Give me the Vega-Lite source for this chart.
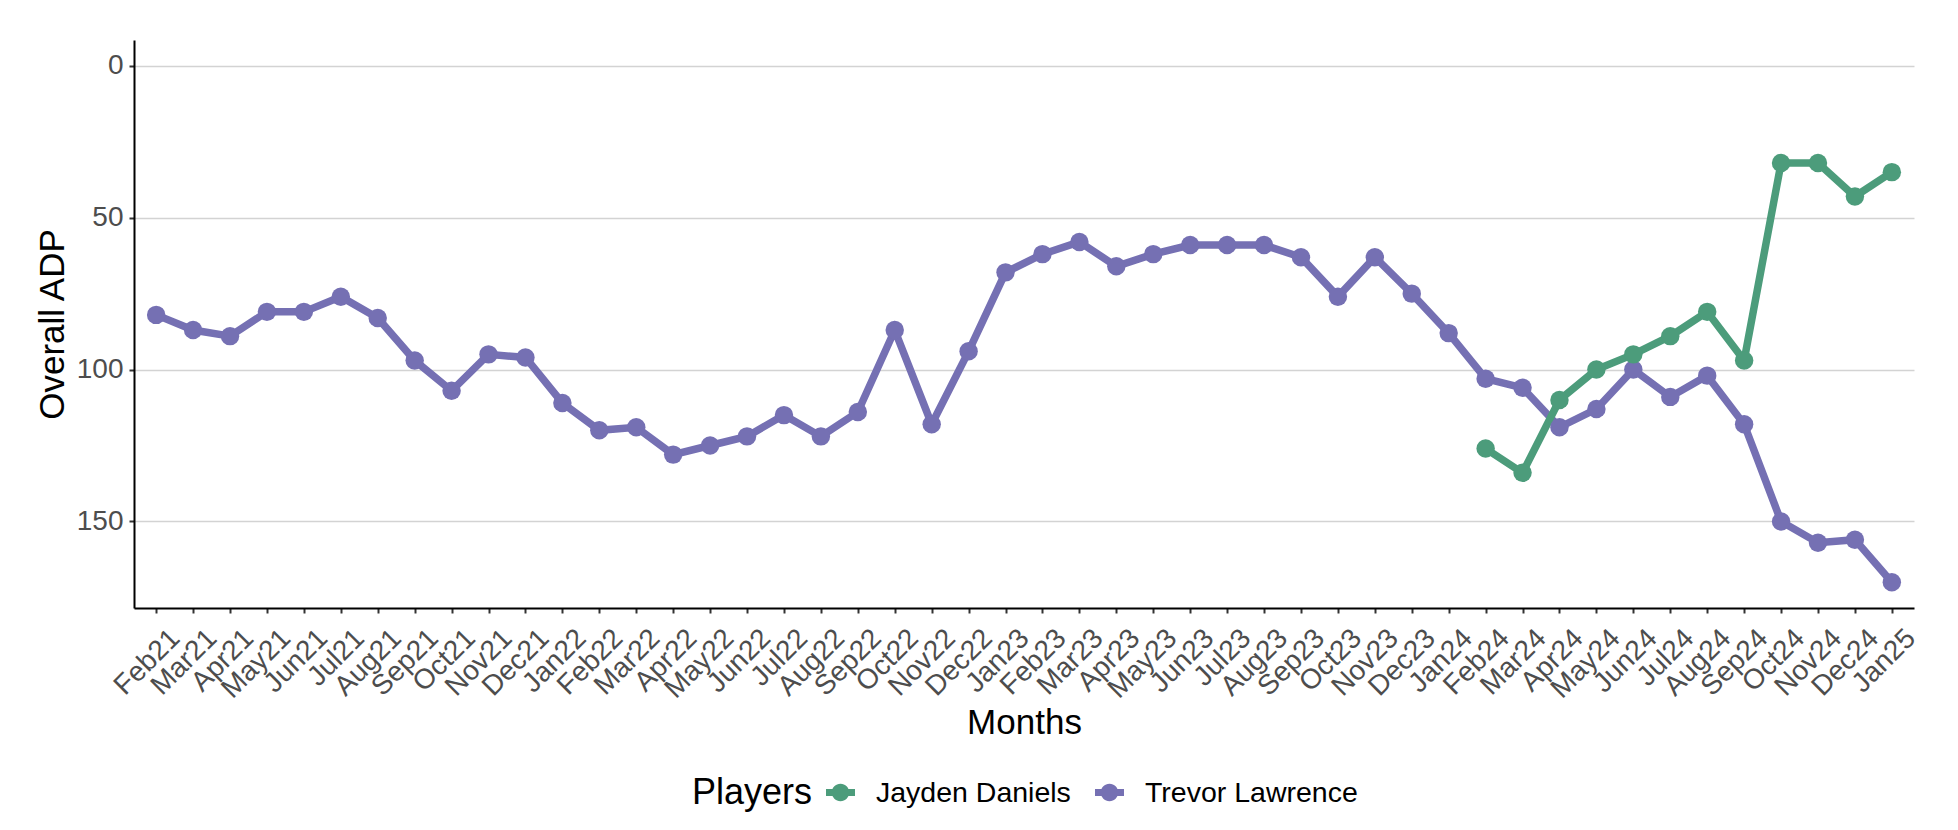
{
  "$schema": "https://vega.github.io/schema/vega-lite/v6.json",
  "autosize": "none",
  "width": 1780,
  "height": 568,
  "padding": {"left": 134, "top": 40, "right": 44, "bottom": 222},
  "background": "white",
  "config": {
    "font": "Liberation Sans",
    "view": {"stroke": null},
    "axis": {
      "labelFont": "Liberation Sans",
      "titleFont": "Liberation Sans",
      "labelFontSize": 28,
      "titleFontSize": 35,
      "labelColor": "#4D4D4D",
      "titleColor": "black",
      "titleFontWeight": "normal",
      "domainColor": "black",
      "domainWidth": 2,
      "tickColor": "#333333",
      "tickWidth": 2,
      "tickSize": 5,
      "gridColor": "#D3D3D3",
      "gridWidth": 1.5
    },
    "legend": {
      "labelFont": "Liberation Sans",
      "titleFont": "Liberation Sans"
    }
  },
  "data": {
    "values": [
      {"month": "Feb21", "player": "Trevor Lawrence", "adp": 82},
      {"month": "Mar21", "player": "Trevor Lawrence", "adp": 87},
      {"month": "Apr21", "player": "Trevor Lawrence", "adp": 89},
      {"month": "May21", "player": "Trevor Lawrence", "adp": 81},
      {"month": "Jun21", "player": "Trevor Lawrence", "adp": 81},
      {"month": "Jul21", "player": "Trevor Lawrence", "adp": 76},
      {"month": "Aug21", "player": "Trevor Lawrence", "adp": 83},
      {"month": "Sep21", "player": "Trevor Lawrence", "adp": 97},
      {"month": "Oct21", "player": "Trevor Lawrence", "adp": 107},
      {"month": "Nov21", "player": "Trevor Lawrence", "adp": 95},
      {"month": "Dec21", "player": "Trevor Lawrence", "adp": 96},
      {"month": "Jan22", "player": "Trevor Lawrence", "adp": 111},
      {"month": "Feb22", "player": "Trevor Lawrence", "adp": 120},
      {"month": "Mar22", "player": "Trevor Lawrence", "adp": 119},
      {"month": "Apr22", "player": "Trevor Lawrence", "adp": 128},
      {"month": "May22", "player": "Trevor Lawrence", "adp": 125},
      {"month": "Jun22", "player": "Trevor Lawrence", "adp": 122},
      {"month": "Jul22", "player": "Trevor Lawrence", "adp": 115},
      {"month": "Aug22", "player": "Trevor Lawrence", "adp": 122},
      {"month": "Sep22", "player": "Trevor Lawrence", "adp": 114},
      {"month": "Oct22", "player": "Trevor Lawrence", "adp": 87},
      {"month": "Nov22", "player": "Trevor Lawrence", "adp": 118},
      {"month": "Dec22", "player": "Trevor Lawrence", "adp": 94},
      {"month": "Jan23", "player": "Trevor Lawrence", "adp": 68},
      {"month": "Feb23", "player": "Trevor Lawrence", "adp": 62},
      {"month": "Mar23", "player": "Trevor Lawrence", "adp": 58},
      {"month": "Apr23", "player": "Trevor Lawrence", "adp": 66},
      {"month": "May23", "player": "Trevor Lawrence", "adp": 62},
      {"month": "Jun23", "player": "Trevor Lawrence", "adp": 59},
      {"month": "Jul23", "player": "Trevor Lawrence", "adp": 59},
      {"month": "Aug23", "player": "Trevor Lawrence", "adp": 59},
      {"month": "Sep23", "player": "Trevor Lawrence", "adp": 63},
      {"month": "Oct23", "player": "Trevor Lawrence", "adp": 76},
      {"month": "Nov23", "player": "Trevor Lawrence", "adp": 63},
      {"month": "Dec23", "player": "Trevor Lawrence", "adp": 75},
      {"month": "Jan24", "player": "Trevor Lawrence", "adp": 88},
      {"month": "Feb24", "player": "Trevor Lawrence", "adp": 103},
      {"month": "Mar24", "player": "Trevor Lawrence", "adp": 106},
      {"month": "Apr24", "player": "Trevor Lawrence", "adp": 119},
      {"month": "May24", "player": "Trevor Lawrence", "adp": 113},
      {"month": "Jun24", "player": "Trevor Lawrence", "adp": 100},
      {"month": "Jul24", "player": "Trevor Lawrence", "adp": 109},
      {"month": "Aug24", "player": "Trevor Lawrence", "adp": 102},
      {"month": "Sep24", "player": "Trevor Lawrence", "adp": 118},
      {"month": "Oct24", "player": "Trevor Lawrence", "adp": 150},
      {"month": "Nov24", "player": "Trevor Lawrence", "adp": 157},
      {"month": "Dec24", "player": "Trevor Lawrence", "adp": 156},
      {"month": "Jan25", "player": "Trevor Lawrence", "adp": 170},
      {"month": "Feb24", "player": "Jayden Daniels", "adp": 126},
      {"month": "Mar24", "player": "Jayden Daniels", "adp": 134},
      {"month": "Apr24", "player": "Jayden Daniels", "adp": 110},
      {"month": "May24", "player": "Jayden Daniels", "adp": 100},
      {"month": "Jun24", "player": "Jayden Daniels", "adp": 95},
      {"month": "Jul24", "player": "Jayden Daniels", "adp": 89},
      {"month": "Aug24", "player": "Jayden Daniels", "adp": 81},
      {"month": "Sep24", "player": "Jayden Daniels", "adp": 97},
      {"month": "Oct24", "player": "Jayden Daniels", "adp": 32},
      {"month": "Nov24", "player": "Jayden Daniels", "adp": 32},
      {"month": "Dec24", "player": "Jayden Daniels", "adp": 43},
      {"month": "Jan25", "player": "Jayden Daniels", "adp": 35}
    ]
  },
  "encoding": {
    "x": {
      "field": "month",
      "type": "ordinal",
      "sort": null,
      "scale": {"type": "point", "padding": 0.6},
      "axis": {
        "title": "Months",
        "labelAngle": -45,
        "labelAlign": "right",
        "labelBaseline": "top",
        "labelOffset": 9,
        "labelPadding": 11,
        "titleX": 890,
        "titleY": 125,
        "titleAlign": "center",
        "titleBaseline": "alphabetic",
        "grid": false,
        "labelOverlap": false
      }
    },
    "y": {
      "field": "adp",
      "type": "quantitative",
      "scale": {"domain": [-8.5, 178.5], "reverse": true, "nice": false, "zero": false},
      "axis": {
        "title": "Overall ADP",
        "values": [0, 50, 100, 150],
        "grid": true,
        "labelPadding": 6,
        "titleAngle": -90,
        "titleX": -71,
        "titleY": 284,
        "titleAlign": "center",
        "titleBaseline": "alphabetic"
      }
    },
    "color": {
      "field": "player",
      "type": "nominal",
      "scale": {"domain": ["Jayden Daniels", "Trevor Lawrence"], "range": ["#4C9C7B", "#7570B3"]},
      "legend": {
        "title": "Players",
        "orient": "none",
        "direction": "horizontal",
        "titleOrient": "left",
        "legendX": 558,
        "legendY": 738,
        "padding": 0,
        "titleFontSize": 36,
        "titleFontWeight": "normal",
        "titleColor": "black",
        "titlePadding": 13,
        "titleBaseline": "middle",
        "labelFontSize": 28.5,
        "labelColor": "black",
        "labelLimit": 0,
        "labelOffset": 21,
        "columnPadding": 24,
        "symbolType": "M-1,-0.24H1V0.24H-1Z M0.6,0 A0.6,0.6 0 1,1 -0.6,0 A0.6,0.6 0 1,1 0.6,0Z",
        "symbolSize": 841,
        "symbolStrokeWidth": 0,
        "encode": {
          "symbols": {"update": {"fill": {"scale": "color", "field": "value"}, "strokeWidth": {"value": 0}, "opacity": {"value": 1}}}
        }
      }
    }
  },
  "layer": [
    {"mark": {"type": "line", "strokeWidth": 7.5}},
    {"mark": {"type": "point", "filled": true, "opacity": 1, "size": 340}}
  ]
}
